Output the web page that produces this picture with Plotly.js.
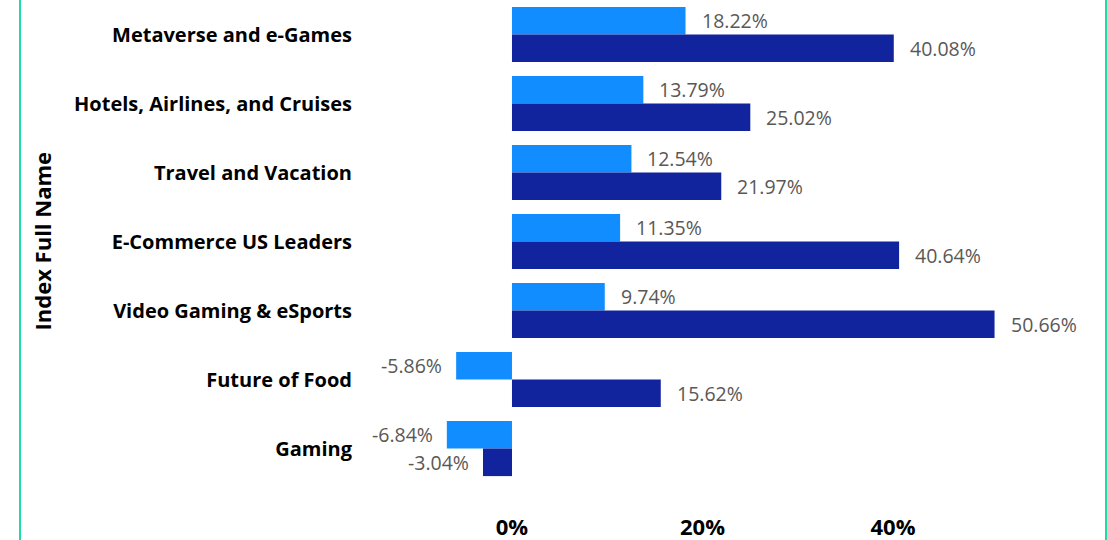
<!DOCTYPE html>
<html>
<head>
<meta charset="utf-8">
<script src="https://cdn.plot.ly/plotly-3.0.1.min.js"></script>
<style>
  html, body { margin: 0; padding: 0; background: #ffffff; }
  #frame { position: absolute; left: 0; top: 0; width: 1107px; height: 540px; overflow: hidden; }
  #chart { position: absolute; left: 0; top: 0; width: 1107px; height: 540px; }
  #bl { position: absolute; left: 19px; top: 0; width: 2px; height: 540px; background: #1fdaa6; }
  #br { position: absolute; left: 1105px; top: 0; width: 2px; height: 540px; background: #1fdaa6; }
</style>
</head>
<body>
<div id="frame">
  <div id="chart"></div>
  <div id="bl"></div>
  <div id="br"></div>
</div>
<script>
const categories = [
  "Metaverse and e-Games",
  "Hotels, Airlines, and Cruises",
  "Travel and Vacation",
  "E-Commerce US Leaders",
  "Video Gaming & eSports",
  "Future of Food",
  "Gaming"
];
const seriesA = [18.22, 13.79, 12.54, 11.35, 9.74, -5.86, -6.84];
const seriesB = [40.08, 25.02, 21.97, 40.64, 50.66, 15.62, -3.04];
const tickValues = [0, 20, 40];
const tickLabels = ["0%", "20%", "40%"];
const axisTitle = "Index Full Name";

const colorA = "#118DFF";
const colorB = "#12239E";
const FONT = "Segoe UI, Open Sans, sans-serif";
const labelFont = { family: FONT, size: 19.5, color: "#5a5856" };

const traces = [
  { type: "bar", orientation: "h", name: "A", y: categories, x: seriesA,
    marker: { color: colorA }, hoverinfo: "none" },
  { type: "bar", orientation: "h", name: "B", y: categories, x: seriesB,
    marker: { color: colorB }, hoverinfo: "none" }
];

const annotations = [];
function addLabels(vals, yshift) {
  vals.forEach((v, i) => {
    const pos = v >= 0;
    annotations.push({
      x: v, y: categories[i], xref: "x", yref: "y",
      text: v.toFixed(2) + "%", showarrow: false,
      xanchor: pos ? "left" : "right", yanchor: "middle",
      xshift: pos ? 14 : -12, yshift: yshift,
      font: labelFont
    });
  });
}
addLabels(seriesA, 14);
addLabels(seriesB, -14);

annotations.push({
  text: "<b>" + axisTitle + "</b>", xref: "paper", yref: "paper",
  x: (41 - 365) / 735, y: 0.5, xanchor: "center", yanchor: "middle",
  textangle: -90, showarrow: false,
  font: { family: FONT, size: 22, color: "#000000" }
});

const layout = {
  width: 1107, height: 540,
  margin: { l: 365, r: 7, t: 0, b: 57, pad: 0 },
  paper_bgcolor: "rgba(0,0,0,0)", plot_bgcolor: "rgba(0,0,0,0)",
  barmode: "group", bargap: 0.2, bargroupgap: 0,
  showlegend: false,
  xaxis: {
    range: [-15.43, 61.73], tickvals: tickValues, ticktext: tickLabels,
    showgrid: false, zeroline: false, showline: false, ticks: "",
    ticklabelstandoff: 29,
    tickfont: { family: FONT, size: 22, color: "#000000", weight: "bold" },
    fixedrange: true
  },
  yaxis: {
    type: "category", categoryorder: "array", categoryarray: categories,
    autorange: "reversed", showgrid: false, zeroline: false, showline: false, ticks: "",
    ticklabelstandoff: 12,
    tickfont: { family: FONT, size: 20, color: "#000000", weight: "bold" },
    fixedrange: true
  },
  annotations: annotations
};

Plotly.newPlot("chart", traces, layout, { displayModeBar: false, staticPlot: true });
</script>
</body>
</html>
